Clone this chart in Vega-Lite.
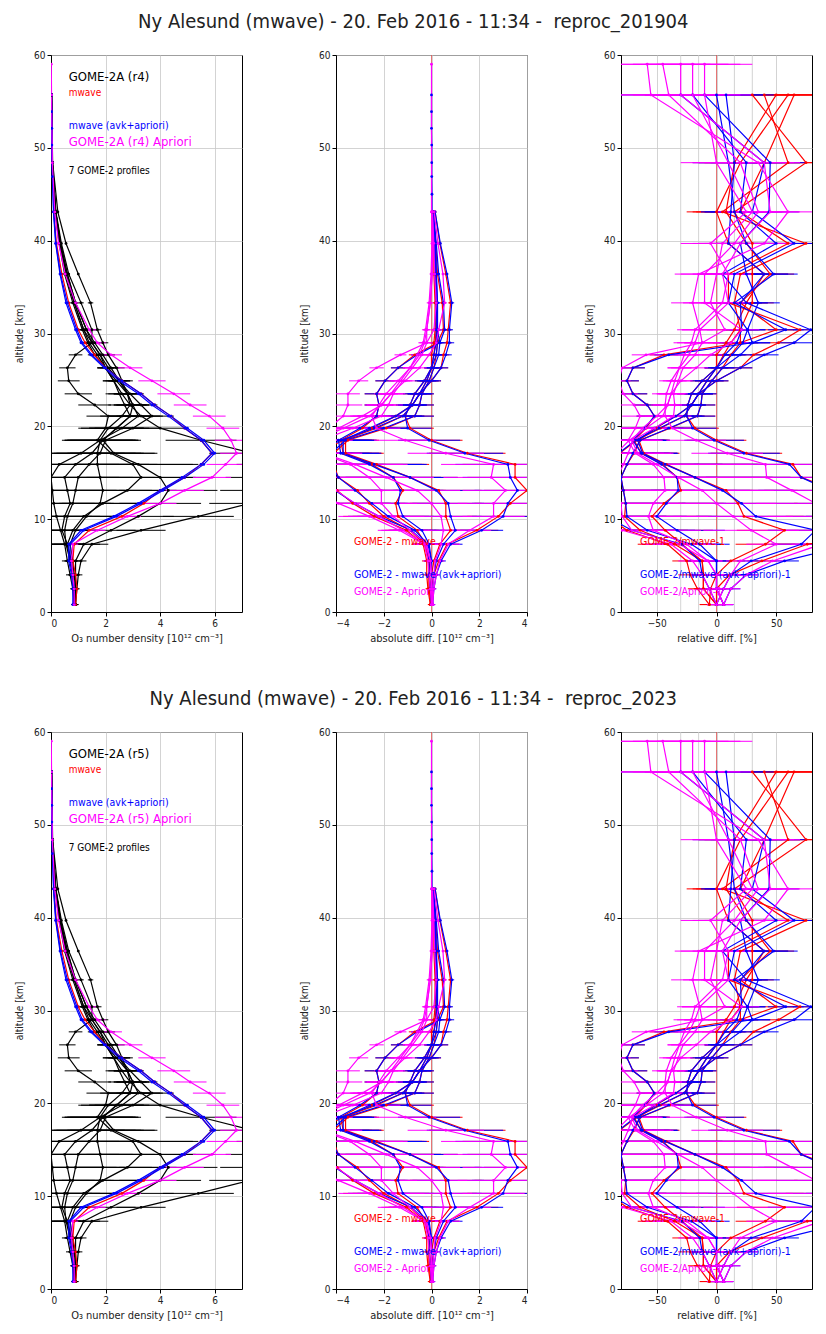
{
"$schema":"https://vega.github.io/schema/vega-lite/v6.json",
"background":"white",
"padding":{"left":14,"top":11,"right":0,"bottom":0},
"spacing":44,
"config":{
 "font":"DejaVu Sans Condensed, DejaVu Sans",
 "view":{"stroke":"black","strokeWidth":1},
 "axis":{"gridColor":"#c8c8c8","gridWidth":0.8,"domainColor":"black","tickColor":"black","tickSize":4,"labelFontSize":10,"labelColor":"#222","titleFontSize":11,"titleFontWeight":"normal","titleColor":"#222","labelPadding":2},
 "axisY":{"titlePadding":9,"titleFontSize":10},
 "axisX":{"titlePadding":4},
 "title":{"fontSize":20,"fontWeight":"normal","color":"#222","offset":18,"font":"DejaVu Sans Condensed, DejaVu Sans"}
},
"datasets":{
"p1":[
{"c":"k","i":1,"y":0.8,"x":0.9,"e":0.1},{"c":"k","i":1,"y":2.5,"x":0.95,"e":0.1},{"c":"k","i":1,"y":4,"x":1,"e":0.15},{"c":"k","i":1,"y":5.5,"x":1.1,"e":0.2},{"c":"k","i":1,"y":7.3,"x":1.5,"e":0.6},{"c":"k","i":1,"y":8.8,"x":3.3,"e":0.9},{"c":"k","i":1,"y":10.3,"x":5.4,"e":1.3},{"c":"k","i":1,"y":11.7,"x":7.3,"e":1.5},{"c":"k","i":1,"y":13.1,"x":8,"e":1.8},{"c":"k","i":1,"y":14.5,"x":8.4,"e":2},{"c":"k","i":1,"y":15.9,"x":9,"e":2.2},{"c":"k","i":1,"y":17.1,"x":7.4,"e":1.6},{"c":"k","i":1,"y":18.5,"x":5.5,"e":1.3},{"c":"k","i":1,"y":19.8,"x":4,"e":1},{"c":"k","i":1,"y":21.1,"x":3.3,"e":0.8},{"c":"k","i":1,"y":22.3,"x":2.9,"e":0.6},{"c":"k","i":1,"y":23.5,"x":2.6,"e":0.5},{"c":"k","i":1,"y":24.9,"x":2.3,"e":0.4},{"c":"k","i":1,"y":26.3,"x":2,"e":0.3},{"c":"k","i":1,"y":27.7,"x":1.7,"e":0.25},{"c":"k","i":1,"y":29,"x":1.4,"e":0.2},{"c":"k","i":1,"y":30.4,"x":1.2,"e":0.15},{"c":"k","i":1,"y":33.3,"x":0.85,"e":0.1},{"c":"k","i":1,"y":36.4,"x":0.55},{"c":"k","i":1,"y":39.7,"x":0.32},{"c":"k","i":1,"y":43.1,"x":0.17},{"c":"k","i":1,"y":48.4,"x":0.05},{"c":"k","i":1,"y":55.7,"x":0.02},
{"c":"k","i":2,"y":0.8,"x":0.85,"e":0.1},{"c":"k","i":2,"y":2.5,"x":0.9,"e":0.1},{"c":"k","i":2,"y":4,"x":0.9,"e":0.15},{"c":"k","i":2,"y":5.5,"x":0.9,"e":0.2},{"c":"k","i":2,"y":7.3,"x":1.2,"e":0.6},{"c":"k","i":2,"y":8.8,"x":2.2,"e":0.9},{"c":"k","i":2,"y":10.3,"x":3.2,"e":1.3},{"c":"k","i":2,"y":11.7,"x":4,"e":1.5},{"c":"k","i":2,"y":13.1,"x":4.3,"e":1.8},{"c":"k","i":2,"y":14.5,"x":4,"e":2},{"c":"k","i":2,"y":15.9,"x":3.2,"e":2.2},{"c":"k","i":2,"y":17.1,"x":2.3,"e":1.6},{"c":"k","i":2,"y":18.5,"x":1.9,"e":1.3},{"c":"k","i":2,"y":19.8,"x":2.4,"e":1},{"c":"k","i":2,"y":21.1,"x":2.9,"e":0.8},{"c":"k","i":2,"y":22.3,"x":3,"e":0.6},{"c":"k","i":2,"y":23.5,"x":2.8,"e":0.5},{"c":"k","i":2,"y":24.9,"x":2.4,"e":0.4},{"c":"k","i":2,"y":26.3,"x":2,"e":0.3},{"c":"k","i":2,"y":27.7,"x":1.6,"e":0.25},{"c":"k","i":2,"y":29,"x":1.35,"e":0.2},{"c":"k","i":2,"y":30.4,"x":1.15,"e":0.15},{"c":"k","i":2,"y":33.3,"x":0.8,"e":0.1},{"c":"k","i":2,"y":36.4,"x":0.5},{"c":"k","i":2,"y":39.7,"x":0.3},{"c":"k","i":2,"y":43.1,"x":0.15},{"c":"k","i":2,"y":48.4,"x":0.05},{"c":"k","i":2,"y":55.7,"x":0.02},
{"c":"k","i":3,"y":0.8,"x":0.9,"e":0.1},{"c":"k","i":3,"y":2.5,"x":0.85,"e":0.1},{"c":"k","i":3,"y":4,"x":0.8,"e":0.15},{"c":"k","i":3,"y":5.5,"x":0.7,"e":0.2},{"c":"k","i":3,"y":7.3,"x":0.55,"e":0.6},{"c":"k","i":3,"y":8.8,"x":0.5,"e":0.9},{"c":"k","i":3,"y":10.3,"x":0.6,"e":1.3},{"c":"k","i":3,"y":11.7,"x":0.8,"e":1.5},{"c":"k","i":3,"y":13.1,"x":0.9,"e":1.8},{"c":"k","i":3,"y":14.5,"x":1,"e":2},{"c":"k","i":3,"y":15.9,"x":1.4,"e":2.2},{"c":"k","i":3,"y":17.1,"x":1.8,"e":1.6},{"c":"k","i":3,"y":18.5,"x":2,"e":1.3},{"c":"k","i":3,"y":19.8,"x":3,"e":1},{"c":"k","i":3,"y":21.1,"x":3.7,"e":0.8},{"c":"k","i":3,"y":22.3,"x":3.3,"e":0.6},{"c":"k","i":3,"y":23.5,"x":2.9,"e":0.5},{"c":"k","i":3,"y":24.9,"x":2.5,"e":0.4},{"c":"k","i":3,"y":26.3,"x":2.1,"e":0.3},{"c":"k","i":3,"y":27.7,"x":1.8,"e":0.25},{"c":"k","i":3,"y":29,"x":1.5,"e":0.2},{"c":"k","i":3,"y":30.4,"x":1.2,"e":0.15},{"c":"k","i":3,"y":33.3,"x":0.85,"e":0.1},{"c":"k","i":3,"y":36.4,"x":0.55},{"c":"k","i":3,"y":39.7,"x":0.35},{"c":"k","i":3,"y":43.1,"x":0.17},{"c":"k","i":3,"y":48.4,"x":0.05},{"c":"k","i":3,"y":55.7,"x":0.02},
{"c":"k","i":4,"y":0.8,"x":0.85,"e":0.1},{"c":"k","i":4,"y":2.5,"x":0.8,"e":0.1},{"c":"k","i":4,"y":4,"x":0.7,"e":0.15},{"c":"k","i":4,"y":5.5,"x":0.6,"e":0.2},{"c":"k","i":4,"y":7.3,"x":0.5,"e":0.6},{"c":"k","i":4,"y":8.8,"x":0.35,"e":0.9},{"c":"k","i":4,"y":10.3,"x":0.2,"e":1.3},{"c":"k","i":4,"y":11.7,"x":0.1,"e":1.5},{"c":"k","i":4,"y":13.1,"x":0.05,"e":1.8},{"c":"k","i":4,"y":14.5,"x":0,"e":2},{"c":"k","i":4,"y":15.9,"x":0.3,"e":2.2},{"c":"k","i":4,"y":17.1,"x":1.1,"e":1.6},{"c":"k","i":4,"y":18.5,"x":1.8,"e":1.3},{"c":"k","i":4,"y":19.8,"x":2.6,"e":1},{"c":"k","i":4,"y":21.1,"x":3.2,"e":0.8},{"c":"k","i":4,"y":22.3,"x":3,"e":0.6},{"c":"k","i":4,"y":23.5,"x":2.8,"e":0.5},{"c":"k","i":4,"y":24.9,"x":2.6,"e":0.4},{"c":"k","i":4,"y":26.3,"x":2.4,"e":0.3},{"c":"k","i":4,"y":27.7,"x":2.1,"e":0.25},{"c":"k","i":4,"y":29,"x":1.9,"e":0.2},{"c":"k","i":4,"y":30.4,"x":1.7,"e":0.15},{"c":"k","i":4,"y":33.3,"x":1.45,"e":0.1},{"c":"k","i":4,"y":36.4,"x":1},{"c":"k","i":4,"y":39.7,"x":0.55},{"c":"k","i":4,"y":43.1,"x":0.25},{"c":"k","i":4,"y":48.4,"x":0.06},{"c":"k","i":4,"y":55.7,"x":0.02},
{"c":"k","i":5,"y":0.8,"x":0.9,"e":0.1},{"c":"k","i":5,"y":2.5,"x":0.9,"e":0.1},{"c":"k","i":5,"y":4,"x":0.85,"e":0.15},{"c":"k","i":5,"y":5.5,"x":0.8,"e":0.2},{"c":"k","i":5,"y":7.3,"x":0.7,"e":0.6},{"c":"k","i":5,"y":8.8,"x":0.9,"e":0.9},{"c":"k","i":5,"y":10.3,"x":1.3,"e":1.3},{"c":"k","i":5,"y":11.7,"x":1.8,"e":1.5},{"c":"k","i":5,"y":13.1,"x":1.9,"e":1.8},{"c":"k","i":5,"y":14.5,"x":1.8,"e":2},{"c":"k","i":5,"y":15.9,"x":1.7,"e":2.2},{"c":"k","i":5,"y":17.1,"x":1.7,"e":1.6},{"c":"k","i":5,"y":18.5,"x":1.8,"e":1.3},{"c":"k","i":5,"y":19.8,"x":2.1,"e":1},{"c":"k","i":5,"y":21.1,"x":2.6,"e":0.8},{"c":"k","i":5,"y":22.3,"x":2.9,"e":0.6},{"c":"k","i":5,"y":23.5,"x":2.8,"e":0.5},{"c":"k","i":5,"y":24.9,"x":2.5,"e":0.4},{"c":"k","i":5,"y":26.3,"x":2.2,"e":0.3},{"c":"k","i":5,"y":27.7,"x":1.9,"e":0.25},{"c":"k","i":5,"y":29,"x":1.6,"e":0.2},{"c":"k","i":5,"y":30.4,"x":1.3,"e":0.15},{"c":"k","i":5,"y":33.3,"x":0.9,"e":0.1},{"c":"k","i":5,"y":36.4,"x":0.6},{"c":"k","i":5,"y":39.7,"x":0.35},{"c":"k","i":5,"y":43.1,"x":0.17},{"c":"k","i":5,"y":48.4,"x":0.05},{"c":"k","i":5,"y":55.7,"x":0.02},
{"c":"k","i":6,"y":0.8,"x":0.85,"e":0.1},{"c":"k","i":6,"y":2.5,"x":0.85,"e":0.1},{"c":"k","i":6,"y":4,"x":0.8,"e":0.15},{"c":"k","i":6,"y":5.5,"x":0.75,"e":0.2},{"c":"k","i":6,"y":7.3,"x":0.6,"e":0.6},{"c":"k","i":6,"y":8.8,"x":0.4,"e":0.9},{"c":"k","i":6,"y":10.3,"x":0.5,"e":1.3},{"c":"k","i":6,"y":11.7,"x":0.7,"e":1.5},{"c":"k","i":6,"y":13.1,"x":0.6,"e":1.8},{"c":"k","i":6,"y":14.5,"x":0.5,"e":2},{"c":"k","i":6,"y":15.9,"x":0.9,"e":2.2},{"c":"k","i":6,"y":17.1,"x":1.5,"e":1.6},{"c":"k","i":6,"y":18.5,"x":1.9,"e":1.3},{"c":"k","i":6,"y":19.8,"x":2.4,"e":1},{"c":"k","i":6,"y":21.1,"x":2.9,"e":0.8},{"c":"k","i":6,"y":22.3,"x":2.7,"e":0.6},{"c":"k","i":6,"y":23.5,"x":2.5,"e":0.5},{"c":"k","i":6,"y":24.9,"x":2.3,"e":0.4},{"c":"k","i":6,"y":26.3,"x":2,"e":0.3},{"c":"k","i":6,"y":27.7,"x":1.8,"e":0.25},{"c":"k","i":6,"y":29,"x":1.5,"e":0.2},{"c":"k","i":6,"y":30.4,"x":1.3,"e":0.15},{"c":"k","i":6,"y":33.3,"x":0.9,"e":0.1},{"c":"k","i":6,"y":36.4,"x":0.6},{"c":"k","i":6,"y":39.7,"x":0.35},{"c":"k","i":6,"y":43.1,"x":0.17},{"c":"k","i":6,"y":48.4,"x":0.05},{"c":"k","i":6,"y":55.7,"x":0.02},
{"c":"k","i":7,"y":0.8,"x":0.9,"e":0.1},{"c":"k","i":7,"y":2.5,"x":0.85,"e":0.1},{"c":"k","i":7,"y":4,"x":0.8,"e":0.15},{"c":"k","i":7,"y":5.5,"x":0.7,"e":0.2},{"c":"k","i":7,"y":7.3,"x":0.6,"e":0.6},{"c":"k","i":7,"y":8.8,"x":0.8,"e":0.9},{"c":"k","i":7,"y":10.3,"x":1.2,"e":1.3},{"c":"k","i":7,"y":11.7,"x":1.9,"e":1.5},{"c":"k","i":7,"y":13.1,"x":2.8,"e":1.8},{"c":"k","i":7,"y":14.5,"x":3.3,"e":2},{"c":"k","i":7,"y":15.9,"x":3,"e":2.2},{"c":"k","i":7,"y":17.1,"x":2.2,"e":1.6},{"c":"k","i":7,"y":18.5,"x":1.7,"e":1.3},{"c":"k","i":7,"y":19.8,"x":2,"e":1},{"c":"k","i":7,"y":21.1,"x":2.1,"e":0.8},{"c":"k","i":7,"y":22.3,"x":1.6,"e":0.6},{"c":"k","i":7,"y":23.5,"x":1,"e":0.5},{"c":"k","i":7,"y":24.9,"x":0.65,"e":0.4},{"c":"k","i":7,"y":26.3,"x":0.6,"e":0.3},{"c":"k","i":7,"y":27.7,"x":0.9,"e":0.25},{"c":"k","i":7,"y":29,"x":1.5,"e":0.2},{"c":"k","i":7,"y":30.4,"x":1.5,"e":0.15},{"c":"k","i":7,"y":33.3,"x":1.1,"e":0.1},{"c":"k","i":7,"y":36.4,"x":0.65},{"c":"k","i":7,"y":39.7,"x":0.38},{"c":"k","i":7,"y":43.1,"x":0.18},{"c":"k","i":7,"y":48.4,"x":0.05},{"c":"k","i":7,"y":55.7,"x":0.02},
{"c":"r","i":0,"y":0.8,"x":0.9},{"c":"r","i":0,"y":2.5,"x":0.95},{"c":"r","i":0,"y":4,"x":0.9},{"c":"r","i":0,"y":5.5,"x":0.8},{"c":"r","i":0,"y":7.3,"x":0.85},{"c":"r","i":0,"y":8.8,"x":1.4},{"c":"r","i":0,"y":10.3,"x":2.6},{"c":"r","i":0,"y":11.7,"x":3.4},{"c":"r","i":0,"y":13.1,"x":4},{"c":"r","i":0,"y":14.5,"x":4.9},{"c":"r","i":0,"y":15.9,"x":5.5},{"c":"r","i":0,"y":17.1,"x":5.9},{"c":"r","i":0,"y":18.5,"x":5.5},{"c":"r","i":0,"y":19.8,"x":4.9},{"c":"r","i":0,"y":21.1,"x":4.4},{"c":"r","i":0,"y":22.3,"x":3.8},{"c":"r","i":0,"y":23.5,"x":3.3},{"c":"r","i":0,"y":24.9,"x":2.6},{"c":"r","i":0,"y":26.3,"x":2},{"c":"r","i":0,"y":27.7,"x":1.6},{"c":"r","i":0,"y":29,"x":1.25},{"c":"r","i":0,"y":30.4,"x":1},{"c":"r","i":0,"y":33.3,"x":0.65},{"c":"r","i":0,"y":36.4,"x":0.4},{"c":"r","i":0,"y":39.7,"x":0.2},{"c":"r","i":0,"y":43.1,"x":0.1},
{"c":"b","i":1,"y":0.8,"x":0.85},{"c":"b","i":1,"y":2.5,"x":0.85},{"c":"b","i":1,"y":4,"x":0.8},{"c":"b","i":1,"y":5.5,"x":0.7},{"c":"b","i":1,"y":7.3,"x":0.7},{"c":"b","i":1,"y":8.8,"x":1.2},{"c":"b","i":1,"y":10.3,"x":2.4},{"c":"b","i":1,"y":11.7,"x":3.3},{"c":"b","i":1,"y":13.1,"x":4.1},{"c":"b","i":1,"y":14.5,"x":4.9},{"c":"b","i":1,"y":15.9,"x":5.6},{"c":"b","i":1,"y":17.1,"x":6},{"c":"b","i":1,"y":18.5,"x":5.6},{"c":"b","i":1,"y":19.8,"x":5},{"c":"b","i":1,"y":21.1,"x":4.4},{"c":"b","i":1,"y":22.3,"x":3.8},{"c":"b","i":1,"y":23.5,"x":3.3},{"c":"b","i":1,"y":24.9,"x":2.6},{"c":"b","i":1,"y":26.3,"x":2},{"c":"b","i":1,"y":27.7,"x":1.5},{"c":"b","i":1,"y":29,"x":1.15},{"c":"b","i":1,"y":30.4,"x":0.95},{"c":"b","i":1,"y":33.3,"x":0.6},{"c":"b","i":1,"y":36.4,"x":0.35},{"c":"b","i":1,"y":39.7,"x":0.18},{"c":"b","i":1,"y":43.1,"x":0.1},{"c":"b","i":1,"y":48.4,"x":0.04},{"c":"b","i":1,"y":52.1,"x":0.03},{"c":"b","i":1,"y":55.7,"x":0.02},
{"c":"b","i":2,"y":0.8,"x":0.8},{"c":"b","i":2,"y":2.5,"x":0.8},{"c":"b","i":2,"y":4,"x":0.75},{"c":"b","i":2,"y":5.5,"x":0.65},{"c":"b","i":2,"y":7.3,"x":0.65},{"c":"b","i":2,"y":8.8,"x":1.1},{"c":"b","i":2,"y":10.3,"x":2.3},{"c":"b","i":2,"y":11.7,"x":3.2},{"c":"b","i":2,"y":13.1,"x":4},{"c":"b","i":2,"y":14.5,"x":4.8},{"c":"b","i":2,"y":15.9,"x":5.5},{"c":"b","i":2,"y":17.1,"x":5.9},{"c":"b","i":2,"y":18.5,"x":5.5},{"c":"b","i":2,"y":19.8,"x":4.9},{"c":"b","i":2,"y":21.1,"x":4.3},{"c":"b","i":2,"y":22.3,"x":3.7},{"c":"b","i":2,"y":23.5,"x":3.2},{"c":"b","i":2,"y":24.9,"x":2.5},{"c":"b","i":2,"y":26.3,"x":1.95},{"c":"b","i":2,"y":27.7,"x":1.45},{"c":"b","i":2,"y":29,"x":1.1},{"c":"b","i":2,"y":30.4,"x":0.9},{"c":"b","i":2,"y":33.3,"x":0.55},{"c":"b","i":2,"y":36.4,"x":0.33},{"c":"b","i":2,"y":39.7,"x":0.17},{"c":"b","i":2,"y":43.1,"x":0.09},{"c":"b","i":2,"y":46.9,"x":0.05},{"c":"b","i":2,"y":50.3,"x":0.03},{"c":"b","i":2,"y":53.9,"x":0.02},{"c":"b","i":2,"y":55.7,"x":0.01},
{"c":"m","i":0,"y":0.8,"x":0.85,"e":0.05},{"c":"m","i":0,"y":2.5,"x":0.85,"e":0.05},{"c":"m","i":0,"y":4,"x":0.8,"e":0.05},{"c":"m","i":0,"y":5.5,"x":0.75,"e":0.1},{"c":"m","i":0,"y":7.3,"x":0.8,"e":0.2},{"c":"m","i":0,"y":8.8,"x":1.7,"e":0.3},{"c":"m","i":0,"y":10.3,"x":2.8,"e":0.5},{"c":"m","i":0,"y":11.7,"x":4,"e":0.6},{"c":"m","i":0,"y":13.1,"x":4.9,"e":0.7},{"c":"m","i":0,"y":14.5,"x":5.9,"e":0.7},{"c":"m","i":0,"y":15.9,"x":6.4,"e":0.7},{"c":"m","i":0,"y":17.1,"x":6.8,"e":0.6},{"c":"m","i":0,"y":18.5,"x":6.6,"e":0.6},{"c":"m","i":0,"y":19.8,"x":6.3,"e":0.6},{"c":"m","i":0,"y":21.1,"x":5.8,"e":0.6},{"c":"m","i":0,"y":22.3,"x":5.1,"e":0.6},{"c":"m","i":0,"y":23.5,"x":4.5,"e":0.6},{"c":"m","i":0,"y":24.9,"x":3.7,"e":0.5},{"c":"m","i":0,"y":26.3,"x":2.9,"e":0.45},{"c":"m","i":0,"y":27.7,"x":2.2,"e":0.4},{"c":"m","i":0,"y":29,"x":1.7,"e":0.3},{"c":"m","i":0,"y":30.4,"x":1.4,"e":0.25},{"c":"m","i":0,"y":33.3,"x":0.9,"e":0.1},{"c":"m","i":0,"y":36.4,"x":0.52},{"c":"m","i":0,"y":39.7,"x":0.28},{"c":"m","i":0,"y":43.1,"x":0.14},{"c":"m","i":0,"y":48.4,"x":0.05},{"c":"m","i":0,"y":55.7,"x":0.02},{"c":"m","i":0,"y":59,"x":0.01}
],
"p2":[
{"c":"r","i":1,"y":0.8,"x":0,"e":0.1},{"c":"r","i":1,"y":2.5,"x":0,"e":0.1},{"c":"r","i":1,"y":4,"x":0.1,"e":0.15},{"c":"r","i":1,"y":5.5,"x":0.3,"e":0.2},{"c":"r","i":1,"y":7.3,"x":0.65,"e":0.5},{"c":"r","i":1,"y":8.8,"x":1.9,"e":0.9},{"c":"r","i":1,"y":10.3,"x":2.8,"e":1.3},{"c":"r","i":1,"y":11.7,"x":3.3,"e":1.5},{"c":"r","i":1,"y":13.1,"x":4,"e":1.8},{"c":"r","i":1,"y":14.5,"x":3.5,"e":2},{"c":"r","i":1,"y":15.9,"x":3.5,"e":2.2},{"c":"r","i":1,"y":17.1,"x":1.5,"e":1.6},{"c":"r","i":1,"y":18.5,"x":0,"e":1.3},{"c":"r","i":1,"y":19.8,"x":-0.9,"e":1},{"c":"r","i":1,"y":21.1,"x":-1.1,"e":0.8},{"c":"r","i":1,"y":22.3,"x":-0.9,"e":0.6},{"c":"r","i":1,"y":23.5,"x":-0.7,"e":0.5},{"c":"r","i":1,"y":24.9,"x":-0.3,"e":0.4},{"c":"r","i":1,"y":26.3,"x":0,"e":0.3},{"c":"r","i":1,"y":27.7,"x":0.1,"e":0.25},{"c":"r","i":1,"y":29,"x":0.15,"e":0.2},{"c":"r","i":1,"y":30.4,"x":0.2,"e":0.15},{"c":"r","i":1,"y":33.3,"x":0.2,"e":0.1},{"c":"r","i":1,"y":36.4,"x":0.15},{"c":"r","i":1,"y":39.7,"x":0.12},{"c":"r","i":1,"y":43.1,"x":0.07},
{"c":"r","i":2,"y":0.8,"x":-0.05,"e":0.1},{"c":"r","i":2,"y":2.5,"x":-0.05,"e":0.1},{"c":"r","i":2,"y":4,"x":0,"e":0.15},{"c":"r","i":2,"y":5.5,"x":0.1,"e":0.2},{"c":"r","i":2,"y":7.3,"x":0.35,"e":0.5},{"c":"r","i":2,"y":8.8,"x":0.8,"e":0.9},{"c":"r","i":2,"y":10.3,"x":0.6,"e":1.3},{"c":"r","i":2,"y":11.7,"x":0.6,"e":1.5},{"c":"r","i":2,"y":13.1,"x":0.3,"e":1.8},{"c":"r","i":2,"y":14.5,"x":-0.9,"e":2},{"c":"r","i":2,"y":15.9,"x":-2.3,"e":2.2},{"c":"r","i":2,"y":17.1,"x":-3.6,"e":1.6},{"c":"r","i":2,"y":18.5,"x":-3.6,"e":1.3},{"c":"r","i":2,"y":19.8,"x":-2.5,"e":1},{"c":"r","i":2,"y":21.1,"x":-1.5,"e":0.8},{"c":"r","i":2,"y":22.3,"x":-0.8,"e":0.6},{"c":"r","i":2,"y":23.5,"x":-0.5,"e":0.5},{"c":"r","i":2,"y":24.9,"x":-0.2,"e":0.4},{"c":"r","i":2,"y":26.3,"x":0,"e":0.3},{"c":"r","i":2,"y":27.7,"x":0,"e":0.25},{"c":"r","i":2,"y":29,"x":0.1,"e":0.2},{"c":"r","i":2,"y":30.4,"x":0.15,"e":0.15},{"c":"r","i":2,"y":33.3,"x":0.15,"e":0.1},{"c":"r","i":2,"y":36.4,"x":0.1},{"c":"r","i":2,"y":39.7,"x":0.1},{"c":"r","i":2,"y":43.1,"x":0.05},
{"c":"r","i":3,"y":0.8,"x":0,"e":0.1},{"c":"r","i":3,"y":2.5,"x":-0.1,"e":0.1},{"c":"r","i":3,"y":4,"x":-0.1,"e":0.15},{"c":"r","i":3,"y":5.5,"x":-0.1,"e":0.2},{"c":"r","i":3,"y":7.3,"x":-0.3,"e":0.5},{"c":"r","i":3,"y":8.8,"x":-0.9,"e":0.9},{"c":"r","i":3,"y":10.3,"x":-2,"e":1.3},{"c":"r","i":3,"y":11.7,"x":-2.6,"e":1.5},{"c":"r","i":3,"y":13.1,"x":-3.1,"e":1.8},{"c":"r","i":3,"y":14.5,"x":-3.9,"e":2},{"c":"r","i":3,"y":15.9,"x":-4.1,"e":2.2},{"c":"r","i":3,"y":17.1,"x":-4.1,"e":1.6},{"c":"r","i":3,"y":18.5,"x":-3.5,"e":1.3},{"c":"r","i":3,"y":19.8,"x":-1.9,"e":1},{"c":"r","i":3,"y":21.1,"x":-0.7,"e":0.8},{"c":"r","i":3,"y":22.3,"x":-0.5,"e":0.6},{"c":"r","i":3,"y":23.5,"x":-0.4,"e":0.5},{"c":"r","i":3,"y":24.9,"x":-0.1,"e":0.4},{"c":"r","i":3,"y":26.3,"x":0.1,"e":0.3},{"c":"r","i":3,"y":27.7,"x":0.2,"e":0.25},{"c":"r","i":3,"y":29,"x":0.25,"e":0.2},{"c":"r","i":3,"y":30.4,"x":0.2,"e":0.15},{"c":"r","i":3,"y":33.3,"x":0.2,"e":0.1},{"c":"r","i":3,"y":36.4,"x":0.15},{"c":"r","i":3,"y":39.7,"x":0.15},{"c":"r","i":3,"y":43.1,"x":0.07},
{"c":"r","i":4,"y":0.8,"x":-0.05,"e":0.1},{"c":"r","i":4,"y":2.5,"x":-0.15,"e":0.1},{"c":"r","i":4,"y":4,"x":-0.2,"e":0.15},{"c":"r","i":4,"y":5.5,"x":-0.2,"e":0.2},{"c":"r","i":4,"y":7.3,"x":-0.35,"e":0.5},{"c":"r","i":4,"y":8.8,"x":-1.05,"e":0.9},{"c":"r","i":4,"y":10.3,"x":-2.4,"e":1.3},{"c":"r","i":4,"y":11.7,"x":-3.3,"e":1.5},{"c":"r","i":4,"y":13.1,"x":-3.95,"e":1.8},{"c":"r","i":4,"y":14.5,"x":-4.9,"e":2},{"c":"r","i":4,"y":15.9,"x":-5.2,"e":2.2},{"c":"r","i":4,"y":17.1,"x":-4.8,"e":1.6},{"c":"r","i":4,"y":18.5,"x":-3.7,"e":1.3},{"c":"r","i":4,"y":19.8,"x":-2.3,"e":1},{"c":"r","i":4,"y":21.1,"x":-1.2,"e":0.8},{"c":"r","i":4,"y":22.3,"x":-0.8,"e":0.6},{"c":"r","i":4,"y":23.5,"x":-0.5,"e":0.5},{"c":"r","i":4,"y":24.9,"x":0,"e":0.4},{"c":"r","i":4,"y":26.3,"x":0.4,"e":0.3},{"c":"r","i":4,"y":27.7,"x":0.5,"e":0.25},{"c":"r","i":4,"y":29,"x":0.65,"e":0.2},{"c":"r","i":4,"y":30.4,"x":0.7,"e":0.15},{"c":"r","i":4,"y":33.3,"x":0.8,"e":0.1},{"c":"r","i":4,"y":36.4,"x":0.6},{"c":"r","i":4,"y":39.7,"x":0.35},{"c":"r","i":4,"y":43.1,"x":0.15},
{"c":"r","i":5,"y":0.8,"x":0,"e":0.1},{"c":"r","i":5,"y":2.5,"x":-0.1,"e":0.1},{"c":"r","i":5,"y":4,"x":-0.1,"e":0.15},{"c":"r","i":5,"y":5.5,"x":-0.1,"e":0.2},{"c":"r","i":5,"y":7.3,"x":-0.25,"e":0.5},{"c":"r","i":5,"y":8.8,"x":-0.6,"e":0.9},{"c":"r","i":5,"y":10.3,"x":-1.4,"e":1.3},{"c":"r","i":5,"y":11.7,"x":-1.5,"e":1.5},{"c":"r","i":5,"y":13.1,"x":-1.2,"e":1.8},{"c":"r","i":5,"y":14.5,"x":-1.6,"e":2},{"c":"r","i":5,"y":15.9,"x":-2.5,"e":2.2},{"c":"r","i":5,"y":17.1,"x":-3.7,"e":1.6},{"c":"r","i":5,"y":18.5,"x":-3.8,"e":1.3},{"c":"r","i":5,"y":19.8,"x":-2.9,"e":1},{"c":"r","i":5,"y":21.1,"x":-2.3,"e":0.8},{"c":"r","i":5,"y":22.3,"x":-2.2,"e":0.6},{"c":"r","i":5,"y":23.5,"x":-2.3,"e":0.5},{"c":"r","i":5,"y":24.9,"x":-1.95,"e":0.4},{"c":"r","i":5,"y":26.3,"x":-1.4,"e":0.3},{"c":"r","i":5,"y":27.7,"x":-0.7,"e":0.25},{"c":"r","i":5,"y":29,"x":0.25,"e":0.2},{"c":"r","i":5,"y":30.4,"x":0.5,"e":0.15},{"c":"r","i":5,"y":33.3,"x":0.45,"e":0.1},{"c":"r","i":5,"y":36.4,"x":0.25},{"c":"r","i":5,"y":39.7,"x":0.18},{"c":"r","i":5,"y":43.1,"x":0.08},
{"c":"b","i":1,"y":0.8,"x":0.05,"e":0.1},{"c":"b","i":1,"y":2.5,"x":0.1,"e":0.1},{"c":"b","i":1,"y":4,"x":0.2,"e":0.15},{"c":"b","i":1,"y":5.5,"x":0.4,"e":0.2},{"c":"b","i":1,"y":7.3,"x":0.8,"e":0.5},{"c":"b","i":1,"y":8.8,"x":2.1,"e":0.9},{"c":"b","i":1,"y":10.3,"x":3,"e":1.3},{"c":"b","i":1,"y":11.7,"x":3.2,"e":1.5},{"c":"b","i":1,"y":13.1,"x":3.6,"e":1.8},{"c":"b","i":1,"y":14.5,"x":3.3,"e":2},{"c":"b","i":1,"y":15.9,"x":3.2,"e":2.2},{"c":"b","i":1,"y":17.1,"x":1.4,"e":1.6},{"c":"b","i":1,"y":18.5,"x":-0.1,"e":1.3},{"c":"b","i":1,"y":19.8,"x":-1,"e":1},{"c":"b","i":1,"y":21.1,"x":-1.1,"e":0.8},{"c":"b","i":1,"y":22.3,"x":-0.9,"e":0.6},{"c":"b","i":1,"y":23.5,"x":-0.7,"e":0.5},{"c":"b","i":1,"y":24.9,"x":-0.3,"e":0.4},{"c":"b","i":1,"y":26.3,"x":0,"e":0.3},{"c":"b","i":1,"y":27.7,"x":0.2,"e":0.25},{"c":"b","i":1,"y":29,"x":0.25,"e":0.2},{"c":"b","i":1,"y":30.4,"x":0.25,"e":0.15},{"c":"b","i":1,"y":33.3,"x":0.25,"e":0.1},{"c":"b","i":1,"y":36.4,"x":0.2},{"c":"b","i":1,"y":39.7,"x":0.14},{"c":"b","i":1,"y":43.1,"x":0.07},
{"c":"b","i":2,"y":0.8,"x":0,"e":0.1},{"c":"b","i":2,"y":2.5,"x":0.05,"e":0.1},{"c":"b","i":2,"y":4,"x":0.1,"e":0.15},{"c":"b","i":2,"y":5.5,"x":0.2,"e":0.2},{"c":"b","i":2,"y":7.3,"x":0.5,"e":0.5},{"c":"b","i":2,"y":8.8,"x":1,"e":0.9},{"c":"b","i":2,"y":10.3,"x":0.8,"e":1.3},{"c":"b","i":2,"y":11.7,"x":0.7,"e":1.5},{"c":"b","i":2,"y":13.1,"x":0.2,"e":1.8},{"c":"b","i":2,"y":14.5,"x":-0.9,"e":2},{"c":"b","i":2,"y":15.9,"x":-2.4,"e":2.2},{"c":"b","i":2,"y":17.1,"x":-3.7,"e":1.6},{"c":"b","i":2,"y":18.5,"x":-3.7,"e":1.3},{"c":"b","i":2,"y":19.8,"x":-2.6,"e":1},{"c":"b","i":2,"y":21.1,"x":-1.5,"e":0.8},{"c":"b","i":2,"y":22.3,"x":-0.8,"e":0.6},{"c":"b","i":2,"y":23.5,"x":-0.5,"e":0.5},{"c":"b","i":2,"y":24.9,"x":-0.2,"e":0.4},{"c":"b","i":2,"y":26.3,"x":0,"e":0.3},{"c":"b","i":2,"y":27.7,"x":0.1,"e":0.25},{"c":"b","i":2,"y":29,"x":0.2,"e":0.2},{"c":"b","i":2,"y":30.4,"x":0.2,"e":0.15},{"c":"b","i":2,"y":33.3,"x":0.2,"e":0.1},{"c":"b","i":2,"y":36.4,"x":0.15},{"c":"b","i":2,"y":39.7,"x":0.12},{"c":"b","i":2,"y":43.1,"x":0.05},
{"c":"b","i":3,"y":0.8,"x":0.05,"e":0.1},{"c":"b","i":3,"y":2.5,"x":0,"e":0.1},{"c":"b","i":3,"y":4,"x":0,"e":0.15},{"c":"b","i":3,"y":5.5,"x":0,"e":0.2},{"c":"b","i":3,"y":7.3,"x":-0.15,"e":0.5},{"c":"b","i":3,"y":8.8,"x":-0.7,"e":0.9},{"c":"b","i":3,"y":10.3,"x":-1.8,"e":1.3},{"c":"b","i":3,"y":11.7,"x":-2.5,"e":1.5},{"c":"b","i":3,"y":13.1,"x":-3.2,"e":1.8},{"c":"b","i":3,"y":14.5,"x":-3.9,"e":2},{"c":"b","i":3,"y":15.9,"x":-4.2,"e":2.2},{"c":"b","i":3,"y":17.1,"x":-4.2,"e":1.6},{"c":"b","i":3,"y":18.5,"x":-3.6,"e":1.3},{"c":"b","i":3,"y":19.8,"x":-2,"e":1},{"c":"b","i":3,"y":21.1,"x":-0.7,"e":0.8},{"c":"b","i":3,"y":22.3,"x":-0.5,"e":0.6},{"c":"b","i":3,"y":23.5,"x":-0.4,"e":0.5},{"c":"b","i":3,"y":24.9,"x":-0.1,"e":0.4},{"c":"b","i":3,"y":26.3,"x":0.1,"e":0.3},{"c":"b","i":3,"y":27.7,"x":0.3,"e":0.25},{"c":"b","i":3,"y":29,"x":0.35,"e":0.2},{"c":"b","i":3,"y":30.4,"x":0.25,"e":0.15},{"c":"b","i":3,"y":33.3,"x":0.25,"e":0.1},{"c":"b","i":3,"y":36.4,"x":0.2},{"c":"b","i":3,"y":39.7,"x":0.17},{"c":"b","i":3,"y":43.1,"x":0.07},
{"c":"b","i":4,"y":0.8,"x":0,"e":0.1},{"c":"b","i":4,"y":2.5,"x":-0.05,"e":0.1},{"c":"b","i":4,"y":4,"x":-0.1,"e":0.15},{"c":"b","i":4,"y":5.5,"x":-0.1,"e":0.2},{"c":"b","i":4,"y":7.3,"x":-0.2,"e":0.5},{"c":"b","i":4,"y":8.8,"x":-0.85,"e":0.9},{"c":"b","i":4,"y":10.3,"x":-2.2,"e":1.3},{"c":"b","i":4,"y":11.7,"x":-3.2,"e":1.5},{"c":"b","i":4,"y":13.1,"x":-4.05,"e":1.8},{"c":"b","i":4,"y":14.5,"x":-4.9,"e":2},{"c":"b","i":4,"y":15.9,"x":-5.3,"e":2.2},{"c":"b","i":4,"y":17.1,"x":-4.9,"e":1.6},{"c":"b","i":4,"y":18.5,"x":-3.8,"e":1.3},{"c":"b","i":4,"y":19.8,"x":-2.4,"e":1},{"c":"b","i":4,"y":21.1,"x":-1.2,"e":0.8},{"c":"b","i":4,"y":22.3,"x":-0.8,"e":0.6},{"c":"b","i":4,"y":23.5,"x":-0.5,"e":0.5},{"c":"b","i":4,"y":24.9,"x":0,"e":0.4},{"c":"b","i":4,"y":26.3,"x":0.4,"e":0.3},{"c":"b","i":4,"y":27.7,"x":0.6,"e":0.25},{"c":"b","i":4,"y":29,"x":0.75,"e":0.2},{"c":"b","i":4,"y":30.4,"x":0.75,"e":0.15},{"c":"b","i":4,"y":33.3,"x":0.85,"e":0.1},{"c":"b","i":4,"y":36.4,"x":0.65},{"c":"b","i":4,"y":39.7,"x":0.37},{"c":"b","i":4,"y":43.1,"x":0.15},
{"c":"b","i":5,"y":0.8,"x":0.05,"e":0.1},{"c":"b","i":5,"y":2.5,"x":0,"e":0.1},{"c":"b","i":5,"y":4,"x":0,"e":0.15},{"c":"b","i":5,"y":5.5,"x":0,"e":0.2},{"c":"b","i":5,"y":7.3,"x":-0.1,"e":0.5},{"c":"b","i":5,"y":8.8,"x":-0.4,"e":0.9},{"c":"b","i":5,"y":10.3,"x":-1.2,"e":1.3},{"c":"b","i":5,"y":11.7,"x":-1.4,"e":1.5},{"c":"b","i":5,"y":13.1,"x":-1.3,"e":1.8},{"c":"b","i":5,"y":14.5,"x":-1.6,"e":2},{"c":"b","i":5,"y":15.9,"x":-2.6,"e":2.2},{"c":"b","i":5,"y":17.1,"x":-3.8,"e":1.6},{"c":"b","i":5,"y":18.5,"x":-3.9,"e":1.3},{"c":"b","i":5,"y":19.8,"x":-3,"e":1},{"c":"b","i":5,"y":21.1,"x":-2.3,"e":0.8},{"c":"b","i":5,"y":22.3,"x":-2.2,"e":0.6},{"c":"b","i":5,"y":23.5,"x":-2.3,"e":0.5},{"c":"b","i":5,"y":24.9,"x":-1.95,"e":0.4},{"c":"b","i":5,"y":26.3,"x":-1.4,"e":0.3},{"c":"b","i":5,"y":27.7,"x":-0.6,"e":0.25},{"c":"b","i":5,"y":29,"x":0.35,"e":0.2},{"c":"b","i":5,"y":30.4,"x":0.55,"e":0.15},{"c":"b","i":5,"y":33.3,"x":0.5,"e":0.1},{"c":"b","i":5,"y":36.4,"x":0.3},{"c":"b","i":5,"y":39.7,"x":0.2},{"c":"b","i":5,"y":43.1,"x":0.08},
{"c":"b","i":9,"y":43.1,"x":0.02},{"c":"b","i":9,"y":45,"x":0.02},{"c":"b","i":9,"y":46.9,"x":0.01},{"c":"b","i":9,"y":48.4,"x":0.01},{"c":"b","i":9,"y":50.3,"x":0.01},{"c":"b","i":9,"y":52.1,"x":0},{"c":"b","i":9,"y":53.9,"x":0},{"c":"b","i":9,"y":55.7,"x":0},
{"c":"m","i":1,"y":0.8,"x":0.05,"e":0.1},{"c":"m","i":1,"y":2.5,"x":0.1,"e":0.1},{"c":"m","i":1,"y":4,"x":0.2,"e":0.15},{"c":"m","i":1,"y":5.5,"x":0.35,"e":0.2},{"c":"m","i":1,"y":7.3,"x":0.7,"e":0.5},{"c":"m","i":1,"y":8.8,"x":1.6,"e":0.9},{"c":"m","i":1,"y":10.3,"x":2.6,"e":1.3},{"c":"m","i":1,"y":11.7,"x":2.6,"e":1.5},{"c":"m","i":1,"y":13.1,"x":3.1,"e":1.8},{"c":"m","i":1,"y":14.5,"x":2.5,"e":2},{"c":"m","i":1,"y":15.9,"x":2.6,"e":2.2},{"c":"m","i":1,"y":17.1,"x":0.6,"e":1.6},{"c":"m","i":1,"y":18.5,"x":-1.1,"e":1.3},{"c":"m","i":1,"y":19.8,"x":-2.3,"e":1},{"c":"m","i":1,"y":21.1,"x":-2.5,"e":0.8},{"c":"m","i":1,"y":22.3,"x":-2.2,"e":0.6},{"c":"m","i":1,"y":23.5,"x":-1.9,"e":0.5},{"c":"m","i":1,"y":24.9,"x":-1.4,"e":0.4},{"c":"m","i":1,"y":26.3,"x":-0.9,"e":0.3},{"c":"m","i":1,"y":27.7,"x":-0.5,"e":0.25},{"c":"m","i":1,"y":29,"x":-0.3,"e":0.2},{"c":"m","i":1,"y":30.4,"x":-0.2,"e":0.15},{"c":"m","i":1,"y":33.3,"x":-0.05,"e":0.1},{"c":"m","i":1,"y":36.4,"x":0.03},{"c":"m","i":1,"y":39.7,"x":0.04},{"c":"m","i":1,"y":43.1,"x":0.03},
{"c":"m","i":2,"y":0.8,"x":0,"e":0.1},{"c":"m","i":2,"y":2.5,"x":0.05,"e":0.1},{"c":"m","i":2,"y":4,"x":0.1,"e":0.15},{"c":"m","i":2,"y":5.5,"x":0.15,"e":0.2},{"c":"m","i":2,"y":7.3,"x":0.4,"e":0.5},{"c":"m","i":2,"y":8.8,"x":0.5,"e":0.9},{"c":"m","i":2,"y":10.3,"x":0.4,"e":1.3},{"c":"m","i":2,"y":11.7,"x":0,"e":1.5},{"c":"m","i":2,"y":13.1,"x":-0.6,"e":1.8},{"c":"m","i":2,"y":14.5,"x":-1.9,"e":2},{"c":"m","i":2,"y":15.9,"x":-3.2,"e":2.2},{"c":"m","i":2,"y":17.1,"x":-4.5,"e":1.6},{"c":"m","i":2,"y":18.5,"x":-4.7,"e":1.3},{"c":"m","i":2,"y":19.8,"x":-3.9,"e":1},{"c":"m","i":2,"y":21.1,"x":-2.9,"e":0.8},{"c":"m","i":2,"y":22.3,"x":-2.1,"e":0.6},{"c":"m","i":2,"y":23.5,"x":-1.7,"e":0.5},{"c":"m","i":2,"y":24.9,"x":-1.3,"e":0.4},{"c":"m","i":2,"y":26.3,"x":-0.9,"e":0.3},{"c":"m","i":2,"y":27.7,"x":-0.6,"e":0.25},{"c":"m","i":2,"y":29,"x":-0.35,"e":0.2},{"c":"m","i":2,"y":30.4,"x":-0.25,"e":0.15},{"c":"m","i":2,"y":33.3,"x":-0.1,"e":0.1},{"c":"m","i":2,"y":36.4,"x":-0.02},{"c":"m","i":2,"y":39.7,"x":0.02},{"c":"m","i":2,"y":43.1,"x":0.01},
{"c":"m","i":3,"y":0.8,"x":0.05,"e":0.1},{"c":"m","i":3,"y":2.5,"x":0,"e":0.1},{"c":"m","i":3,"y":4,"x":0,"e":0.15},{"c":"m","i":3,"y":5.5,"x":-0.05,"e":0.2},{"c":"m","i":3,"y":7.3,"x":-0.25,"e":0.5},{"c":"m","i":3,"y":8.8,"x":-1.2,"e":0.9},{"c":"m","i":3,"y":10.3,"x":-2.2,"e":1.3},{"c":"m","i":3,"y":11.7,"x":-3.2,"e":1.5},{"c":"m","i":3,"y":13.1,"x":-4,"e":1.8},{"c":"m","i":3,"y":14.5,"x":-4.9,"e":2},{"c":"m","i":3,"y":15.9,"x":-5,"e":2.2},{"c":"m","i":3,"y":17.1,"x":-5,"e":1.6},{"c":"m","i":3,"y":18.5,"x":-4.6,"e":1.3},{"c":"m","i":3,"y":19.8,"x":-3.3,"e":1},{"c":"m","i":3,"y":21.1,"x":-2.1,"e":0.8},{"c":"m","i":3,"y":22.3,"x":-1.8,"e":0.6},{"c":"m","i":3,"y":23.5,"x":-1.6,"e":0.5},{"c":"m","i":3,"y":24.9,"x":-1.2,"e":0.4},{"c":"m","i":3,"y":26.3,"x":-0.8,"e":0.3},{"c":"m","i":3,"y":27.7,"x":-0.4,"e":0.25},{"c":"m","i":3,"y":29,"x":-0.2,"e":0.2},{"c":"m","i":3,"y":30.4,"x":-0.2,"e":0.15},{"c":"m","i":3,"y":33.3,"x":-0.05,"e":0.1},{"c":"m","i":3,"y":36.4,"x":0.03},{"c":"m","i":3,"y":39.7,"x":0.07},{"c":"m","i":3,"y":43.1,"x":0.03},
{"c":"m","i":4,"y":0.8,"x":0,"e":0.1},{"c":"m","i":4,"y":2.5,"x":-0.05,"e":0.1},{"c":"m","i":4,"y":4,"x":-0.1,"e":0.15},{"c":"m","i":4,"y":5.5,"x":-0.15,"e":0.2},{"c":"m","i":4,"y":7.3,"x":-0.3,"e":0.5},{"c":"m","i":4,"y":8.8,"x":-1.35,"e":0.9},{"c":"m","i":4,"y":10.3,"x":-2.6,"e":1.3},{"c":"m","i":4,"y":11.7,"x":-3.9,"e":1.5},{"c":"m","i":4,"y":13.1,"x":-4.85,"e":1.8},{"c":"m","i":4,"y":14.5,"x":-5.9,"e":2},{"c":"m","i":4,"y":15.9,"x":-6.1,"e":2.2},{"c":"m","i":4,"y":17.1,"x":-5.7,"e":1.6},{"c":"m","i":4,"y":18.5,"x":-4.8,"e":1.3},{"c":"m","i":4,"y":19.8,"x":-3.7,"e":1},{"c":"m","i":4,"y":21.1,"x":-2.6,"e":0.8},{"c":"m","i":4,"y":22.3,"x":-2.1,"e":0.6},{"c":"m","i":4,"y":23.5,"x":-1.7,"e":0.5},{"c":"m","i":4,"y":24.9,"x":-1.1,"e":0.4},{"c":"m","i":4,"y":26.3,"x":-0.5,"e":0.3},{"c":"m","i":4,"y":27.7,"x":-0.1,"e":0.25},{"c":"m","i":4,"y":29,"x":0.2,"e":0.2},{"c":"m","i":4,"y":30.4,"x":0.3,"e":0.15},{"c":"m","i":4,"y":33.3,"x":0.55,"e":0.1},{"c":"m","i":4,"y":36.4,"x":0.48},{"c":"m","i":4,"y":39.7,"x":0.27},{"c":"m","i":4,"y":43.1,"x":0.11},
{"c":"m","i":5,"y":0.8,"x":0.05,"e":0.1},{"c":"m","i":5,"y":2.5,"x":0,"e":0.1},{"c":"m","i":5,"y":4,"x":0,"e":0.15},{"c":"m","i":5,"y":5.5,"x":-0.05,"e":0.2},{"c":"m","i":5,"y":7.3,"x":-0.2,"e":0.5},{"c":"m","i":5,"y":8.8,"x":-0.9,"e":0.9},{"c":"m","i":5,"y":10.3,"x":-1.6,"e":1.3},{"c":"m","i":5,"y":11.7,"x":-2.1,"e":1.5},{"c":"m","i":5,"y":13.1,"x":-2.1,"e":1.8},{"c":"m","i":5,"y":14.5,"x":-2.6,"e":2},{"c":"m","i":5,"y":15.9,"x":-3.4,"e":2.2},{"c":"m","i":5,"y":17.1,"x":-4.6,"e":1.6},{"c":"m","i":5,"y":18.5,"x":-4.9,"e":1.3},{"c":"m","i":5,"y":19.8,"x":-4.3,"e":1},{"c":"m","i":5,"y":21.1,"x":-3.7,"e":0.8},{"c":"m","i":5,"y":22.3,"x":-3.5,"e":0.6},{"c":"m","i":5,"y":23.5,"x":-3.5,"e":0.5},{"c":"m","i":5,"y":24.9,"x":-3.05,"e":0.4},{"c":"m","i":5,"y":26.3,"x":-2.3,"e":0.3},{"c":"m","i":5,"y":27.7,"x":-1.3,"e":0.25},{"c":"m","i":5,"y":29,"x":-0.2,"e":0.2},{"c":"m","i":5,"y":30.4,"x":0.1,"e":0.15},{"c":"m","i":5,"y":33.3,"x":0.2,"e":0.1},{"c":"m","i":5,"y":36.4,"x":0.13},{"c":"m","i":5,"y":39.7,"x":0.1},{"c":"m","i":5,"y":43.1,"x":0.04},
{"c":"m","i":9,"y":43.1,"x":0},{"c":"m","i":9,"y":59,"x":0}
],
"p3":[
{"c":"r","i":1,"y":0.8,"x":0,"e":8},{"c":"r","i":1,"y":2.5,"x":0,"e":8},{"c":"r","i":1,"y":4,"x":11,"e":10},{"c":"r","i":1,"y":5.5,"x":38,"e":12},{"c":"r","i":1,"y":7.3,"x":76,"e":25},{"c":"r","i":1,"y":8.8,"x":136,"e":40},{"c":"r","i":1,"y":10.3,"x":108,"e":50},{"c":"r","i":1,"y":11.7,"x":115,"e":50},{"c":"r","i":1,"y":13.1,"x":100,"e":60},{"c":"r","i":1,"y":14.5,"x":71,"e":80},{"c":"r","i":1,"y":15.9,"x":64,"e":80},{"c":"r","i":1,"y":17.1,"x":25,"e":30},{"c":"r","i":1,"y":18.5,"x":0,"e":25},{"c":"r","i":1,"y":19.8,"x":-18,"e":20},{"c":"r","i":1,"y":21.1,"x":-25,"e":15},{"c":"r","i":1,"y":22.3,"x":-24,"e":12},{"c":"r","i":1,"y":23.5,"x":-21,"e":12},{"c":"r","i":1,"y":24.9,"x":-12,"e":10},{"c":"r","i":1,"y":26.3,"x":0,"e":10},{"c":"r","i":1,"y":27.7,"x":6,"e":12},{"c":"r","i":1,"y":29,"x":12,"e":15},{"c":"r","i":1,"y":30.4,"x":20,"e":15},{"c":"r","i":1,"y":33.3,"x":15,"e":18},{"c":"r","i":1,"y":36.4,"x":20,"e":20},{"c":"r","i":1,"y":39.7,"x":75,"e":25},{"c":"r","i":1,"y":43.1,"x":5,"e":25},{"c":"r","i":1,"y":48.4,"x":60,"e":30},{"c":"r","i":1,"y":55.7,"x":40,"e":40},
{"c":"r","i":2,"y":0.8,"x":-6,"e":8},{"c":"r","i":2,"y":2.5,"x":-5,"e":8},{"c":"r","i":2,"y":4,"x":0,"e":10},{"c":"r","i":2,"y":5.5,"x":12,"e":12},{"c":"r","i":2,"y":7.3,"x":41,"e":25},{"c":"r","i":2,"y":8.8,"x":57,"e":40},{"c":"r","i":2,"y":10.3,"x":23,"e":50},{"c":"r","i":2,"y":11.7,"x":18,"e":50},{"c":"r","i":2,"y":13.1,"x":8,"e":60},{"c":"r","i":2,"y":14.5,"x":-18,"e":80},{"c":"r","i":2,"y":15.9,"x":-42,"e":80},{"c":"r","i":2,"y":17.1,"x":-61,"e":30},{"c":"r","i":2,"y":18.5,"x":-65,"e":25},{"c":"r","i":2,"y":19.8,"x":-51,"e":20},{"c":"r","i":2,"y":21.1,"x":-34,"e":15},{"c":"r","i":2,"y":22.3,"x":-21,"e":12},{"c":"r","i":2,"y":23.5,"x":-15,"e":12},{"c":"r","i":2,"y":24.9,"x":-8,"e":10},{"c":"r","i":2,"y":26.3,"x":0,"e":10},{"c":"r","i":2,"y":27.7,"x":0,"e":12},{"c":"r","i":2,"y":29,"x":8,"e":15},{"c":"r","i":2,"y":30.4,"x":15,"e":15},{"c":"r","i":2,"y":33.3,"x":25,"e":18},{"c":"r","i":2,"y":36.4,"x":40,"e":20},{"c":"r","i":2,"y":39.7,"x":10,"e":25},{"c":"r","i":2,"y":43.1,"x":0,"e":25},{"c":"r","i":2,"y":48.4,"x":20,"e":30},{"c":"r","i":2,"y":55.7,"x":60,"e":40},
{"c":"r","i":3,"y":0.8,"x":0,"e":8},{"c":"r","i":3,"y":2.5,"x":-11,"e":8},{"c":"r","i":3,"y":4,"x":-11,"e":10},{"c":"r","i":3,"y":5.5,"x":-12,"e":12},{"c":"r","i":3,"y":7.3,"x":-35,"e":25},{"c":"r","i":3,"y":8.8,"x":-64,"e":40},{"c":"r","i":3,"y":10.3,"x":-77,"e":50},{"c":"r","i":3,"y":11.7,"x":-76,"e":50},{"c":"r","i":3,"y":13.1,"x":-78,"e":60},{"c":"r","i":3,"y":14.5,"x":-80,"e":80},{"c":"r","i":3,"y":15.9,"x":-75,"e":80},{"c":"r","i":3,"y":17.1,"x":-69,"e":30},{"c":"r","i":3,"y":18.5,"x":-64,"e":25},{"c":"r","i":3,"y":19.8,"x":-39,"e":20},{"c":"r","i":3,"y":21.1,"x":-16,"e":15},{"c":"r","i":3,"y":22.3,"x":-13,"e":12},{"c":"r","i":3,"y":23.5,"x":-12,"e":12},{"c":"r","i":3,"y":24.9,"x":-4,"e":10},{"c":"r","i":3,"y":26.3,"x":5,"e":10},{"c":"r","i":3,"y":27.7,"x":12,"e":12},{"c":"r","i":3,"y":29,"x":20,"e":15},{"c":"r","i":3,"y":30.4,"x":20,"e":15},{"c":"r","i":3,"y":33.3,"x":30,"e":18},{"c":"r","i":3,"y":36.4,"x":30,"e":20},{"c":"r","i":3,"y":39.7,"x":30,"e":25},{"c":"r","i":3,"y":43.1,"x":15,"e":25},{"c":"r","i":3,"y":48.4,"x":75,"e":30},{"c":"r","i":3,"y":55.7,"x":30,"e":40},
{"c":"r","i":4,"y":0.8,"x":-6,"e":8},{"c":"r","i":4,"y":2.5,"x":-16,"e":8},{"c":"r","i":4,"y":4,"x":-22,"e":10},{"c":"r","i":4,"y":5.5,"x":-25,"e":12},{"c":"r","i":4,"y":7.3,"x":-41,"e":25},{"c":"r","i":4,"y":8.8,"x":-75,"e":40},{"c":"r","i":4,"y":10.3,"x":-92,"e":50},{"c":"r","i":4,"y":11.7,"x":-97,"e":50},{"c":"r","i":4,"y":13.1,"x":-99,"e":60},{"c":"r","i":4,"y":14.5,"x":-100,"e":80},{"c":"r","i":4,"y":15.9,"x":-95,"e":80},{"c":"r","i":4,"y":17.1,"x":-81,"e":30},{"c":"r","i":4,"y":18.5,"x":-67,"e":25},{"c":"r","i":4,"y":19.8,"x":-47,"e":20},{"c":"r","i":4,"y":21.1,"x":-27,"e":15},{"c":"r","i":4,"y":22.3,"x":-21,"e":12},{"c":"r","i":4,"y":23.5,"x":-15,"e":12},{"c":"r","i":4,"y":24.9,"x":0,"e":10},{"c":"r","i":4,"y":26.3,"x":20,"e":10},{"c":"r","i":4,"y":27.7,"x":31,"e":12},{"c":"r","i":4,"y":29,"x":52,"e":15},{"c":"r","i":4,"y":30.4,"x":70,"e":15},{"c":"r","i":4,"y":33.3,"x":10,"e":18},{"c":"r","i":4,"y":36.4,"x":10,"e":20},{"c":"r","i":4,"y":39.7,"x":60,"e":25},{"c":"r","i":4,"y":43.1,"x":20,"e":25},{"c":"r","i":4,"y":48.4,"x":40,"e":30},{"c":"r","i":4,"y":55.7,"x":65,"e":40},
{"c":"r","i":5,"y":0.8,"x":0,"e":8},{"c":"r","i":5,"y":2.5,"x":-11,"e":8},{"c":"r","i":5,"y":4,"x":-11,"e":10},{"c":"r","i":5,"y":5.5,"x":-12,"e":12},{"c":"r","i":5,"y":7.3,"x":-29,"e":25},{"c":"r","i":5,"y":8.8,"x":-43,"e":40},{"c":"r","i":5,"y":10.3,"x":-54,"e":50},{"c":"r","i":5,"y":11.7,"x":-44,"e":50},{"c":"r","i":5,"y":13.1,"x":-30,"e":60},{"c":"r","i":5,"y":14.5,"x":-33,"e":80},{"c":"r","i":5,"y":15.9,"x":-45,"e":80},{"c":"r","i":5,"y":17.1,"x":-63,"e":30},{"c":"r","i":5,"y":18.5,"x":-69,"e":25},{"c":"r","i":5,"y":19.8,"x":-59,"e":20},{"c":"r","i":5,"y":21.1,"x":-52,"e":15},{"c":"r","i":5,"y":22.3,"x":-58,"e":12},{"c":"r","i":5,"y":23.5,"x":-70,"e":12},{"c":"r","i":5,"y":24.9,"x":-75,"e":10},{"c":"r","i":5,"y":26.3,"x":-70,"e":10},{"c":"r","i":5,"y":27.7,"x":-44,"e":12},{"c":"r","i":5,"y":29,"x":20,"e":15},{"c":"r","i":5,"y":30.4,"x":50,"e":15},{"c":"r","i":5,"y":33.3,"x":20,"e":18},{"c":"r","i":5,"y":36.4,"x":45,"e":20},{"c":"r","i":5,"y":39.7,"x":25,"e":25},{"c":"r","i":5,"y":43.1,"x":8,"e":25},{"c":"r","i":5,"y":48.4,"x":15,"e":30},{"c":"r","i":5,"y":55.7,"x":50,"e":40},
{"c":"b","i":1,"y":0.8,"x":6,"e":8},{"c":"b","i":1,"y":2.5,"x":12,"e":8},{"c":"b","i":1,"y":4,"x":25,"e":10},{"c":"b","i":1,"y":5.5,"x":57,"e":12},{"c":"b","i":1,"y":7.3,"x":114,"e":25},{"c":"b","i":1,"y":8.8,"x":175,"e":40},{"c":"b","i":1,"y":10.3,"x":125,"e":50},{"c":"b","i":1,"y":11.7,"x":121,"e":50},{"c":"b","i":1,"y":13.1,"x":95,"e":60},{"c":"b","i":1,"y":14.5,"x":71,"e":80},{"c":"b","i":1,"y":15.9,"x":61,"e":80},{"c":"b","i":1,"y":17.1,"x":23,"e":30},{"c":"b","i":1,"y":18.5,"x":-2,"e":25},{"c":"b","i":1,"y":19.8,"x":-20,"e":20},{"c":"b","i":1,"y":21.1,"x":-25,"e":15},{"c":"b","i":1,"y":22.3,"x":-24,"e":12},{"c":"b","i":1,"y":23.5,"x":-21,"e":12},{"c":"b","i":1,"y":24.9,"x":-12,"e":10},{"c":"b","i":1,"y":26.3,"x":0,"e":10},{"c":"b","i":1,"y":27.7,"x":13,"e":12},{"c":"b","i":1,"y":29,"x":22,"e":15},{"c":"b","i":1,"y":30.4,"x":26,"e":15},{"c":"b","i":1,"y":33.3,"x":10,"e":18},{"c":"b","i":1,"y":36.4,"x":15,"e":20},{"c":"b","i":1,"y":39.7,"x":65,"e":25},{"c":"b","i":1,"y":43.1,"x":30,"e":25},{"c":"b","i":1,"y":48.4,"x":40,"e":30},{"c":"b","i":1,"y":55.7,"x":-30,"e":50},
{"c":"b","i":2,"y":0.8,"x":0,"e":8},{"c":"b","i":2,"y":2.5,"x":6,"e":8},{"c":"b","i":2,"y":4,"x":12,"e":10},{"c":"b","i":2,"y":5.5,"x":29,"e":12},{"c":"b","i":2,"y":7.3,"x":71,"e":25},{"c":"b","i":2,"y":8.8,"x":83,"e":40},{"c":"b","i":2,"y":10.3,"x":33,"e":50},{"c":"b","i":2,"y":11.7,"x":21,"e":50},{"c":"b","i":2,"y":13.1,"x":5,"e":60},{"c":"b","i":2,"y":14.5,"x":-18,"e":80},{"c":"b","i":2,"y":15.9,"x":-43,"e":80},{"c":"b","i":2,"y":17.1,"x":-62,"e":30},{"c":"b","i":2,"y":18.5,"x":-66,"e":25},{"c":"b","i":2,"y":19.8,"x":-52,"e":20},{"c":"b","i":2,"y":21.1,"x":-34,"e":15},{"c":"b","i":2,"y":22.3,"x":-21,"e":12},{"c":"b","i":2,"y":23.5,"x":-15,"e":12},{"c":"b","i":2,"y":24.9,"x":-8,"e":10},{"c":"b","i":2,"y":26.3,"x":0,"e":10},{"c":"b","i":2,"y":27.7,"x":7,"e":12},{"c":"b","i":2,"y":29,"x":17,"e":15},{"c":"b","i":2,"y":30.4,"x":21,"e":15},{"c":"b","i":2,"y":33.3,"x":20,"e":18},{"c":"b","i":2,"y":36.4,"x":40,"e":20},{"c":"b","i":2,"y":39.7,"x":10,"e":25},{"c":"b","i":2,"y":43.1,"x":12,"e":25},{"c":"b","i":2,"y":48.4,"x":15,"e":30},{"c":"b","i":2,"y":55.7,"x":8,"e":40},
{"c":"b","i":3,"y":0.8,"x":6,"e":8},{"c":"b","i":3,"y":2.5,"x":0,"e":8},{"c":"b","i":3,"y":4,"x":0,"e":10},{"c":"b","i":3,"y":5.5,"x":0,"e":12},{"c":"b","i":3,"y":7.3,"x":-21,"e":25},{"c":"b","i":3,"y":8.8,"x":-58,"e":40},{"c":"b","i":3,"y":10.3,"x":-75,"e":50},{"c":"b","i":3,"y":11.7,"x":-76,"e":50},{"c":"b","i":3,"y":13.1,"x":-78,"e":60},{"c":"b","i":3,"y":14.5,"x":-80,"e":80},{"c":"b","i":3,"y":15.9,"x":-75,"e":80},{"c":"b","i":3,"y":17.1,"x":-70,"e":30},{"c":"b","i":3,"y":18.5,"x":-64,"e":25},{"c":"b","i":3,"y":19.8,"x":-40,"e":20},{"c":"b","i":3,"y":21.1,"x":-16,"e":15},{"c":"b","i":3,"y":22.3,"x":-13,"e":12},{"c":"b","i":3,"y":23.5,"x":-12,"e":12},{"c":"b","i":3,"y":24.9,"x":-4,"e":10},{"c":"b","i":3,"y":26.3,"x":5,"e":10},{"c":"b","i":3,"y":27.7,"x":20,"e":12},{"c":"b","i":3,"y":29,"x":30,"e":15},{"c":"b","i":3,"y":30.4,"x":26,"e":15},{"c":"b","i":3,"y":33.3,"x":35,"e":18},{"c":"b","i":3,"y":36.4,"x":25,"e":20},{"c":"b","i":3,"y":39.7,"x":20,"e":25},{"c":"b","i":3,"y":43.1,"x":44,"e":25},{"c":"b","i":3,"y":48.4,"x":45,"e":30},{"c":"b","i":3,"y":55.7,"x":-10,"e":40},
{"c":"b","i":4,"y":0.8,"x":0,"e":8},{"c":"b","i":4,"y":2.5,"x":-6,"e":8},{"c":"b","i":4,"y":4,"x":-12,"e":10},{"c":"b","i":4,"y":5.5,"x":-14,"e":12},{"c":"b","i":4,"y":7.3,"x":-29,"e":25},{"c":"b","i":4,"y":8.8,"x":-71,"e":40},{"c":"b","i":4,"y":10.3,"x":-92,"e":50},{"c":"b","i":4,"y":11.7,"x":-97,"e":50},{"c":"b","i":4,"y":13.1,"x":-99,"e":60},{"c":"b","i":4,"y":14.5,"x":-100,"e":80},{"c":"b","i":4,"y":15.9,"x":-95,"e":80},{"c":"b","i":4,"y":17.1,"x":-82,"e":30},{"c":"b","i":4,"y":18.5,"x":-68,"e":25},{"c":"b","i":4,"y":19.8,"x":-48,"e":20},{"c":"b","i":4,"y":21.1,"x":-27,"e":15},{"c":"b","i":4,"y":22.3,"x":-21,"e":12},{"c":"b","i":4,"y":23.5,"x":-15,"e":12},{"c":"b","i":4,"y":24.9,"x":0,"e":10},{"c":"b","i":4,"y":26.3,"x":20,"e":10},{"c":"b","i":4,"y":27.7,"x":40,"e":12},{"c":"b","i":4,"y":29,"x":65,"e":15},{"c":"b","i":4,"y":30.4,"x":79,"e":15},{"c":"b","i":4,"y":33.3,"x":25,"e":18},{"c":"b","i":4,"y":36.4,"x":5,"e":20},{"c":"b","i":4,"y":39.7,"x":50,"e":25},{"c":"b","i":4,"y":43.1,"x":20,"e":25},{"c":"b","i":4,"y":48.4,"x":25,"e":30},{"c":"b","i":4,"y":55.7,"x":-20,"e":40},
{"c":"b","i":5,"y":0.8,"x":6,"e":8},{"c":"b","i":5,"y":2.5,"x":0,"e":8},{"c":"b","i":5,"y":4,"x":0,"e":10},{"c":"b","i":5,"y":5.5,"x":0,"e":12},{"c":"b","i":5,"y":7.3,"x":-14,"e":25},{"c":"b","i":5,"y":8.8,"x":-33,"e":40},{"c":"b","i":5,"y":10.3,"x":-50,"e":50},{"c":"b","i":5,"y":11.7,"x":-42,"e":50},{"c":"b","i":5,"y":13.1,"x":-32,"e":60},{"c":"b","i":5,"y":14.5,"x":-33,"e":80},{"c":"b","i":5,"y":15.9,"x":-46,"e":80},{"c":"b","i":5,"y":17.1,"x":-63,"e":30},{"c":"b","i":5,"y":18.5,"x":-70,"e":25},{"c":"b","i":5,"y":19.8,"x":-60,"e":20},{"c":"b","i":5,"y":21.1,"x":-52,"e":15},{"c":"b","i":5,"y":22.3,"x":-58,"e":12},{"c":"b","i":5,"y":23.5,"x":-70,"e":12},{"c":"b","i":5,"y":24.9,"x":-75,"e":10},{"c":"b","i":5,"y":26.3,"x":-70,"e":10},{"c":"b","i":5,"y":27.7,"x":-40,"e":12},{"c":"b","i":5,"y":29,"x":30,"e":15},{"c":"b","i":5,"y":30.4,"x":58,"e":15},{"c":"b","i":5,"y":33.3,"x":15,"e":18},{"c":"b","i":5,"y":36.4,"x":48,"e":20},{"c":"b","i":5,"y":39.7,"x":25,"e":25},{"c":"b","i":5,"y":43.1,"x":15,"e":25},{"c":"b","i":5,"y":48.4,"x":10,"e":30},{"c":"b","i":5,"y":55.7,"x":0,"e":40},
{"c":"m","i":1,"y":0.8,"x":6,"e":8},{"c":"m","i":1,"y":2.5,"x":12,"e":8},{"c":"m","i":1,"y":4,"x":25,"e":10},{"c":"m","i":1,"y":5.5,"x":47,"e":12},{"c":"m","i":1,"y":7.3,"x":88,"e":25},{"c":"m","i":1,"y":8.8,"x":94,"e":40},{"c":"m","i":1,"y":10.3,"x":93,"e":50},{"c":"m","i":1,"y":11.7,"x":83,"e":50},{"c":"m","i":1,"y":13.1,"x":63,"e":60},{"c":"m","i":1,"y":14.5,"x":42,"e":80},{"c":"m","i":1,"y":15.9,"x":41,"e":80},{"c":"m","i":1,"y":17.1,"x":9,"e":30},{"c":"m","i":1,"y":18.5,"x":-17,"e":25},{"c":"m","i":1,"y":19.8,"x":-37,"e":20},{"c":"m","i":1,"y":21.1,"x":-43,"e":15},{"c":"m","i":1,"y":22.3,"x":-43,"e":12},{"c":"m","i":1,"y":23.5,"x":-42,"e":12},{"c":"m","i":1,"y":24.9,"x":-38,"e":10},{"c":"m","i":1,"y":26.3,"x":-31,"e":10},{"c":"m","i":1,"y":27.7,"x":-23,"e":12},{"c":"m","i":1,"y":29,"x":-18,"e":15},{"c":"m","i":1,"y":30.4,"x":-14,"e":15},{"c":"m","i":1,"y":33.3,"x":-20,"e":18},{"c":"m","i":1,"y":36.4,"x":-15,"e":20},{"c":"m","i":1,"y":39.7,"x":40,"e":25},{"c":"m","i":1,"y":43.1,"x":60,"e":25},{"c":"m","i":1,"y":48.4,"x":35,"e":30},{"c":"m","i":1,"y":55.7,"x":-55,"e":40},{"c":"m","i":1,"y":59,"x":-58,"e":40},
{"c":"m","i":2,"y":0.8,"x":0,"e":8},{"c":"m","i":2,"y":2.5,"x":6,"e":8},{"c":"m","i":2,"y":4,"x":12,"e":10},{"c":"m","i":2,"y":5.5,"x":20,"e":12},{"c":"m","i":2,"y":7.3,"x":50,"e":25},{"c":"m","i":2,"y":8.8,"x":29,"e":40},{"c":"m","i":2,"y":10.3,"x":14,"e":50},{"c":"m","i":2,"y":11.7,"x":0,"e":50},{"c":"m","i":2,"y":13.1,"x":-12,"e":60},{"c":"m","i":2,"y":14.5,"x":-32,"e":80},{"c":"m","i":2,"y":15.9,"x":-50,"e":80},{"c":"m","i":2,"y":17.1,"x":-66,"e":30},{"c":"m","i":2,"y":18.5,"x":-71,"e":25},{"c":"m","i":2,"y":19.8,"x":-62,"e":20},{"c":"m","i":2,"y":21.1,"x":-50,"e":15},{"c":"m","i":2,"y":22.3,"x":-41,"e":12},{"c":"m","i":2,"y":23.5,"x":-38,"e":12},{"c":"m","i":2,"y":24.9,"x":-35,"e":10},{"c":"m","i":2,"y":26.3,"x":-31,"e":10},{"c":"m","i":2,"y":27.7,"x":-27,"e":12},{"c":"m","i":2,"y":29,"x":-21,"e":15},{"c":"m","i":2,"y":30.4,"x":-18,"e":15},{"c":"m","i":2,"y":33.3,"x":5,"e":18},{"c":"m","i":2,"y":36.4,"x":10,"e":20},{"c":"m","i":2,"y":39.7,"x":-5,"e":25},{"c":"m","i":2,"y":43.1,"x":25,"e":25},{"c":"m","i":2,"y":48.4,"x":0,"e":30},{"c":"m","i":2,"y":55.7,"x":-10,"e":40},{"c":"m","i":2,"y":59,"x":-10,"e":40},
{"c":"m","i":3,"y":0.8,"x":6,"e":8},{"c":"m","i":3,"y":2.5,"x":0,"e":8},{"c":"m","i":3,"y":4,"x":0,"e":10},{"c":"m","i":3,"y":5.5,"x":-7,"e":12},{"c":"m","i":3,"y":7.3,"x":-31,"e":25},{"c":"m","i":3,"y":8.8,"x":-71,"e":40},{"c":"m","i":3,"y":10.3,"x":-79,"e":50},{"c":"m","i":3,"y":11.7,"x":-80,"e":50},{"c":"m","i":3,"y":13.1,"x":-82,"e":60},{"c":"m","i":3,"y":14.5,"x":-83,"e":80},{"c":"m","i":3,"y":15.9,"x":-78,"e":80},{"c":"m","i":3,"y":17.1,"x":-74,"e":30},{"c":"m","i":3,"y":18.5,"x":-70,"e":25},{"c":"m","i":3,"y":19.8,"x":-52,"e":20},{"c":"m","i":3,"y":21.1,"x":-36,"e":15},{"c":"m","i":3,"y":22.3,"x":-35,"e":12},{"c":"m","i":3,"y":23.5,"x":-36,"e":12},{"c":"m","i":3,"y":24.9,"x":-32,"e":10},{"c":"m","i":3,"y":26.3,"x":-28,"e":10},{"c":"m","i":3,"y":27.7,"x":-18,"e":12},{"c":"m","i":3,"y":29,"x":-12,"e":15},{"c":"m","i":3,"y":30.4,"x":-14,"e":15},{"c":"m","i":3,"y":33.3,"x":10,"e":18},{"c":"m","i":3,"y":36.4,"x":5,"e":20},{"c":"m","i":3,"y":39.7,"x":20,"e":25},{"c":"m","i":3,"y":43.1,"x":45,"e":25},{"c":"m","i":3,"y":48.4,"x":40,"e":30},{"c":"m","i":3,"y":55.7,"x":-30,"e":40},{"c":"m","i":3,"y":59,"x":-30,"e":40},
{"c":"m","i":4,"y":0.8,"x":0,"e":8},{"c":"m","i":4,"y":2.5,"x":-6,"e":8},{"c":"m","i":4,"y":4,"x":-12,"e":10},{"c":"m","i":4,"y":5.5,"x":-20,"e":12},{"c":"m","i":4,"y":7.3,"x":-38,"e":25},{"c":"m","i":4,"y":8.8,"x":-79,"e":40},{"c":"m","i":4,"y":10.3,"x":-93,"e":50},{"c":"m","i":4,"y":11.7,"x":-98,"e":50},{"c":"m","i":4,"y":13.1,"x":-99,"e":60},{"c":"m","i":4,"y":14.5,"x":-100,"e":80},{"c":"m","i":4,"y":15.9,"x":-95,"e":80},{"c":"m","i":4,"y":17.1,"x":-84,"e":30},{"c":"m","i":4,"y":18.5,"x":-73,"e":25},{"c":"m","i":4,"y":19.8,"x":-59,"e":20},{"c":"m","i":4,"y":21.1,"x":-45,"e":15},{"c":"m","i":4,"y":22.3,"x":-41,"e":12},{"c":"m","i":4,"y":23.5,"x":-38,"e":12},{"c":"m","i":4,"y":24.9,"x":-30,"e":10},{"c":"m","i":4,"y":26.3,"x":-17,"e":10},{"c":"m","i":4,"y":27.7,"x":-5,"e":12},{"c":"m","i":4,"y":29,"x":12,"e":15},{"c":"m","i":4,"y":30.4,"x":21,"e":15},{"c":"m","i":4,"y":33.3,"x":-10,"e":18},{"c":"m","i":4,"y":36.4,"x":-10,"e":20},{"c":"m","i":4,"y":39.7,"x":15,"e":25},{"c":"m","i":4,"y":43.1,"x":35,"e":25},{"c":"m","i":4,"y":48.4,"x":20,"e":30},{"c":"m","i":4,"y":55.7,"x":-40,"e":40},{"c":"m","i":4,"y":59,"x":-45,"e":40},
{"c":"m","i":5,"y":0.8,"x":6,"e":8},{"c":"m","i":5,"y":2.5,"x":0,"e":8},{"c":"m","i":5,"y":4,"x":0,"e":10},{"c":"m","i":5,"y":5.5,"x":-7,"e":12},{"c":"m","i":5,"y":7.3,"x":-25,"e":25},{"c":"m","i":5,"y":8.8,"x":-53,"e":40},{"c":"m","i":5,"y":10.3,"x":-57,"e":50},{"c":"m","i":5,"y":11.7,"x":-53,"e":50},{"c":"m","i":5,"y":13.1,"x":-43,"e":60},{"c":"m","i":5,"y":14.5,"x":-44,"e":80},{"c":"m","i":5,"y":15.9,"x":-53,"e":80},{"c":"m","i":5,"y":17.1,"x":-68,"e":30},{"c":"m","i":5,"y":18.5,"x":-74,"e":25},{"c":"m","i":5,"y":19.8,"x":-68,"e":20},{"c":"m","i":5,"y":21.1,"x":-64,"e":15},{"c":"m","i":5,"y":22.3,"x":-69,"e":12},{"c":"m","i":5,"y":23.5,"x":-78,"e":12},{"c":"m","i":5,"y":24.9,"x":-82,"e":10},{"c":"m","i":5,"y":26.3,"x":-79,"e":10},{"c":"m","i":5,"y":27.7,"x":-59,"e":12},{"c":"m","i":5,"y":29,"x":-12,"e":15},{"c":"m","i":5,"y":30.4,"x":7,"e":15},{"c":"m","i":5,"y":33.3,"x":-5,"e":18},{"c":"m","i":5,"y":36.4,"x":0,"e":20},{"c":"m","i":5,"y":39.7,"x":5,"e":25},{"c":"m","i":5,"y":43.1,"x":30,"e":25},{"c":"m","i":5,"y":48.4,"x":10,"e":30},{"c":"m","i":5,"y":55.7,"x":-20,"e":40},{"c":"m","i":5,"y":59,"x":-20,"e":40}
],
"g3":[{"x":-30},{"x":-15},{"x":15},{"x":30}],
"z":[{"x":0}],
"t2":[{"x":-3.25,"y":7.5,"t":"GOME-2 - mwave","c":"r"},{"x":-3.25,"y":4,"t":"GOME-2 - mwave (avk+apriori)","c":"b"},{"x":-3.25,"y":2.2,"t":"GOME-2 - Apriori","c":"m"}],
"t3":[{"x":-64,"y":7.5,"t":"GOME-2/mwave-1","c":"r"},{"x":-64,"y":4,"t":"GOME-2/mwave (avk+apriori)-1","c":"b"},{"x":-64,"y":2.2,"t":"GOME-2/Apriori-1","c":"m"}],
"t1a":[{"x":0.65,"y":57.6,"t":"GOME-2A (r4)","c":"k","s":13},{"x":0.65,"y":55.9,"t":"mwave","c":"r","s":10},{"x":0.65,"y":52.4,"t":"mwave (avk+apriori)","c":"b","s":10.5},{"x":0.65,"y":50.6,"t":"GOME-2A (r4) Apriori","c":"m","s":13},{"x":0.65,"y":47.5,"t":"7 GOME-2 profiles","c":"k","s":10}],
"t1b":[{"x":0.65,"y":57.6,"t":"GOME-2A (r5)","c":"k","s":13},{"x":0.65,"y":55.9,"t":"mwave","c":"r","s":10},{"x":0.65,"y":52.4,"t":"mwave (avk+apriori)","c":"b","s":10.5},{"x":0.65,"y":50.6,"t":"GOME-2A (r5) Apriori","c":"m","s":13},{"x":0.65,"y":47.5,"t":"7 GOME-2 profiles","c":"k","s":10}]
},
"vconcat":[
{"title":{"text":"Ny Alesund (mwave) - 20. Feb 2016 - 11:34 - \u00a0reproc_201904","anchor":"middle"},"spacing":56,
"hconcat":[
{"width":191,"height":557,"layer":[
{"data":{"name":"p1"},"transform":[{"filter":"isValid(datum.e)"}],"mark":{"type":"errorbar","thickness":1,"clip":true},"encoding":{"x":{"field":"x","type":"quantitative","title":"O₃ number density [10¹² cm⁻³]","scale":{"domain":[0,7],"nice":false},"axis":{"values":[0,2,4,6]}},"xError":{"field":"e"},"y":{"field":"y","type":"quantitative","title":"altitude [km]","scale":{"domain":[0,60],"nice":false},"axis":{"values":[0,10,20,30,40,50,60]}},"color":{"field":"c","type":"nominal","scale":{"domain":["k","r","b","m"],"range":["black","red","blue","magenta"]},"legend":null}}},
{"data":{"name":"p1"},"mark":{"type":"line","clip":true,"strokeWidth":1.2,"point":{"filled":true,"size":8}},"encoding":{"x":{"field":"x","type":"quantitative","title":"O₃ number density [10¹² cm⁻³]"},"y":{"field":"y","type":"quantitative","title":"altitude [km]"},"color":{"field":"c","type":"nominal","scale":{"domain":["k","r","b","m"],"range":["black","red","blue","magenta"]},"legend":null},"detail":{"field":"i"},"order":{"field":"y","type":"quantitative"}}},
{"data":{"name":"t1a"},"mark":{"type":"text","align":"left","baseline":"middle"},"encoding":{"x":{"field":"x","type":"quantitative","title":"O₃ number density [10¹² cm⁻³]"},"y":{"field":"y","type":"quantitative","title":"altitude [km]"},"text":{"field":"t"},"size":{"field":"s","type":"quantitative","scale":null},"color":{"field":"c","type":"nominal","scale":{"domain":["k","r","b","m"],"range":["black","red","blue","magenta"]},"legend":null}}}
]},
{"width":191,"height":557,"layer":[
{"data":{"name":"z"},"mark":{"type":"rule","color":"#e05050","strokeWidth":0.8},"encoding":{"x":{"field":"x","type":"quantitative","title":"absolute diff. [10¹² cm⁻³]","scale":{"domain":[-4,4],"nice":false},"axis":{"values":[-4,-2,0,2,4]}}}},
{"data":{"name":"p2"},"transform":[{"filter":"isValid(datum.e)"}],"mark":{"type":"errorbar","thickness":1,"clip":true},"encoding":{"x":{"field":"x","type":"quantitative","title":"absolute diff. [10¹² cm⁻³]"},"xError":{"field":"e"},"y":{"field":"y","type":"quantitative","title":"altitude [km]","scale":{"domain":[0,60],"nice":false},"axis":{"values":[0,10,20,30,40,50,60]}},"color":{"field":"c","type":"nominal","scale":{"domain":["k","r","b","m"],"range":["black","red","blue","magenta"]},"legend":null}}},
{"data":{"name":"p2"},"mark":{"type":"line","clip":true,"strokeWidth":1.2,"point":{"filled":true,"size":8}},"encoding":{"x":{"field":"x","type":"quantitative","title":"absolute diff. [10¹² cm⁻³]"},"y":{"field":"y","type":"quantitative","title":"altitude [km]"},"color":{"field":"c","type":"nominal","scale":{"domain":["k","r","b","m"],"range":["black","red","blue","magenta"]},"legend":null},"detail":{"field":"i"},"order":{"field":"y","type":"quantitative"}}},
{"data":{"name":"t2"},"mark":{"type":"text","align":"left","baseline":"middle","fontSize":10.5},"encoding":{"x":{"field":"x","type":"quantitative","title":"absolute diff. [10¹² cm⁻³]"},"y":{"field":"y","type":"quantitative","title":"altitude [km]"},"text":{"field":"t"},"color":{"field":"c","type":"nominal","scale":{"domain":["k","r","b","m"],"range":["black","red","blue","magenta"]},"legend":null}}}
]},
{"width":191,"height":557,"layer":[
{"data":{"name":"g3"},"mark":{"type":"rule","color":"#c8c8c8","strokeWidth":0.8},"encoding":{"x":{"field":"x","type":"quantitative","title":"relative diff. [%]","scale":{"domain":[-80,80],"nice":false},"axis":{"values":[-50,0,50]}}}},
{"data":{"name":"z"},"mark":{"type":"rule","color":"#e05050","strokeWidth":0.8},"encoding":{"x":{"field":"x","type":"quantitative","title":"relative diff. [%]"}}},
{"data":{"name":"p3"},"transform":[{"filter":"isValid(datum.e)"}],"mark":{"type":"errorbar","thickness":1,"clip":true},"encoding":{"x":{"field":"x","type":"quantitative","title":"relative diff. [%]"},"xError":{"field":"e"},"y":{"field":"y","type":"quantitative","title":"altitude [km]","scale":{"domain":[0,60],"nice":false},"axis":{"values":[0,10,20,30,40,50,60]}},"color":{"field":"c","type":"nominal","scale":{"domain":["k","r","b","m"],"range":["black","red","blue","magenta"]},"legend":null}}},
{"data":{"name":"p3"},"mark":{"type":"line","clip":true,"strokeWidth":1.2,"point":{"filled":true,"size":8}},"encoding":{"x":{"field":"x","type":"quantitative","title":"relative diff. [%]"},"y":{"field":"y","type":"quantitative","title":"altitude [km]"},"color":{"field":"c","type":"nominal","scale":{"domain":["k","r","b","m"],"range":["black","red","blue","magenta"]},"legend":null},"detail":{"field":"i"},"order":{"field":"y","type":"quantitative"}}},
{"data":{"name":"t3"},"mark":{"type":"text","align":"left","baseline":"middle","fontSize":10.5},"encoding":{"x":{"field":"x","type":"quantitative","title":"relative diff. [%]"},"y":{"field":"y","type":"quantitative","title":"altitude [km]"},"text":{"field":"t"},"color":{"field":"c","type":"nominal","scale":{"domain":["k","r","b","m"],"range":["black","red","blue","magenta"]},"legend":null}}}
]}
]},
{"title":{"text":"Ny Alesund (mwave) - 20. Feb 2016 - 11:34 - \u00a0reproc_2023","anchor":"middle"},"spacing":56,
"hconcat":[
{"width":191,"height":557,"layer":[
{"data":{"name":"p1"},"transform":[{"filter":"isValid(datum.e)"}],"mark":{"type":"errorbar","thickness":1,"clip":true},"encoding":{"x":{"field":"x","type":"quantitative","title":"O₃ number density [10¹² cm⁻³]","scale":{"domain":[0,7],"nice":false},"axis":{"values":[0,2,4,6]}},"xError":{"field":"e"},"y":{"field":"y","type":"quantitative","title":"altitude [km]","scale":{"domain":[0,60],"nice":false},"axis":{"values":[0,10,20,30,40,50,60]}},"color":{"field":"c","type":"nominal","scale":{"domain":["k","r","b","m"],"range":["black","red","blue","magenta"]},"legend":null}}},
{"data":{"name":"p1"},"mark":{"type":"line","clip":true,"strokeWidth":1.2,"point":{"filled":true,"size":8}},"encoding":{"x":{"field":"x","type":"quantitative","title":"O₃ number density [10¹² cm⁻³]"},"y":{"field":"y","type":"quantitative","title":"altitude [km]"},"color":{"field":"c","type":"nominal","scale":{"domain":["k","r","b","m"],"range":["black","red","blue","magenta"]},"legend":null},"detail":{"field":"i"},"order":{"field":"y","type":"quantitative"}}},
{"data":{"name":"t1b"},"mark":{"type":"text","align":"left","baseline":"middle"},"encoding":{"x":{"field":"x","type":"quantitative","title":"O₃ number density [10¹² cm⁻³]"},"y":{"field":"y","type":"quantitative","title":"altitude [km]"},"text":{"field":"t"},"size":{"field":"s","type":"quantitative","scale":null},"color":{"field":"c","type":"nominal","scale":{"domain":["k","r","b","m"],"range":["black","red","blue","magenta"]},"legend":null}}}
]},
{"width":191,"height":557,"layer":[
{"data":{"name":"z"},"mark":{"type":"rule","color":"#e05050","strokeWidth":0.8},"encoding":{"x":{"field":"x","type":"quantitative","title":"absolute diff. [10¹² cm⁻³]","scale":{"domain":[-4,4],"nice":false},"axis":{"values":[-4,-2,0,2,4]}}}},
{"data":{"name":"p2"},"transform":[{"filter":"isValid(datum.e)"}],"mark":{"type":"errorbar","thickness":1,"clip":true},"encoding":{"x":{"field":"x","type":"quantitative","title":"absolute diff. [10¹² cm⁻³]"},"xError":{"field":"e"},"y":{"field":"y","type":"quantitative","title":"altitude [km]","scale":{"domain":[0,60],"nice":false},"axis":{"values":[0,10,20,30,40,50,60]}},"color":{"field":"c","type":"nominal","scale":{"domain":["k","r","b","m"],"range":["black","red","blue","magenta"]},"legend":null}}},
{"data":{"name":"p2"},"mark":{"type":"line","clip":true,"strokeWidth":1.2,"point":{"filled":true,"size":8}},"encoding":{"x":{"field":"x","type":"quantitative","title":"absolute diff. [10¹² cm⁻³]"},"y":{"field":"y","type":"quantitative","title":"altitude [km]"},"color":{"field":"c","type":"nominal","scale":{"domain":["k","r","b","m"],"range":["black","red","blue","magenta"]},"legend":null},"detail":{"field":"i"},"order":{"field":"y","type":"quantitative"}}},
{"data":{"name":"t2"},"mark":{"type":"text","align":"left","baseline":"middle","fontSize":10.5},"encoding":{"x":{"field":"x","type":"quantitative","title":"absolute diff. [10¹² cm⁻³]"},"y":{"field":"y","type":"quantitative","title":"altitude [km]"},"text":{"field":"t"},"color":{"field":"c","type":"nominal","scale":{"domain":["k","r","b","m"],"range":["black","red","blue","magenta"]},"legend":null}}}
]},
{"width":191,"height":557,"layer":[
{"data":{"name":"g3"},"mark":{"type":"rule","color":"#c8c8c8","strokeWidth":0.8},"encoding":{"x":{"field":"x","type":"quantitative","title":"relative diff. [%]","scale":{"domain":[-80,80],"nice":false},"axis":{"values":[-50,0,50]}}}},
{"data":{"name":"z"},"mark":{"type":"rule","color":"#e05050","strokeWidth":0.8},"encoding":{"x":{"field":"x","type":"quantitative","title":"relative diff. [%]"}}},
{"data":{"name":"p3"},"transform":[{"filter":"isValid(datum.e)"}],"mark":{"type":"errorbar","thickness":1,"clip":true},"encoding":{"x":{"field":"x","type":"quantitative","title":"relative diff. [%]"},"xError":{"field":"e"},"y":{"field":"y","type":"quantitative","title":"altitude [km]","scale":{"domain":[0,60],"nice":false},"axis":{"values":[0,10,20,30,40,50,60]}},"color":{"field":"c","type":"nominal","scale":{"domain":["k","r","b","m"],"range":["black","red","blue","magenta"]},"legend":null}}},
{"data":{"name":"p3"},"mark":{"type":"line","clip":true,"strokeWidth":1.2,"point":{"filled":true,"size":8}},"encoding":{"x":{"field":"x","type":"quantitative","title":"relative diff. [%]"},"y":{"field":"y","type":"quantitative","title":"altitude [km]"},"color":{"field":"c","type":"nominal","scale":{"domain":["k","r","b","m"],"range":["black","red","blue","magenta"]},"legend":null},"detail":{"field":"i"},"order":{"field":"y","type":"quantitative"}}},
{"data":{"name":"t3"},"mark":{"type":"text","align":"left","baseline":"middle","fontSize":10.5},"encoding":{"x":{"field":"x","type":"quantitative","title":"relative diff. [%]"},"y":{"field":"y","type":"quantitative","title":"altitude [km]"},"text":{"field":"t"},"color":{"field":"c","type":"nominal","scale":{"domain":["k","r","b","m"],"range":["black","red","blue","magenta"]},"legend":null}}}
]}
]}
]
}
